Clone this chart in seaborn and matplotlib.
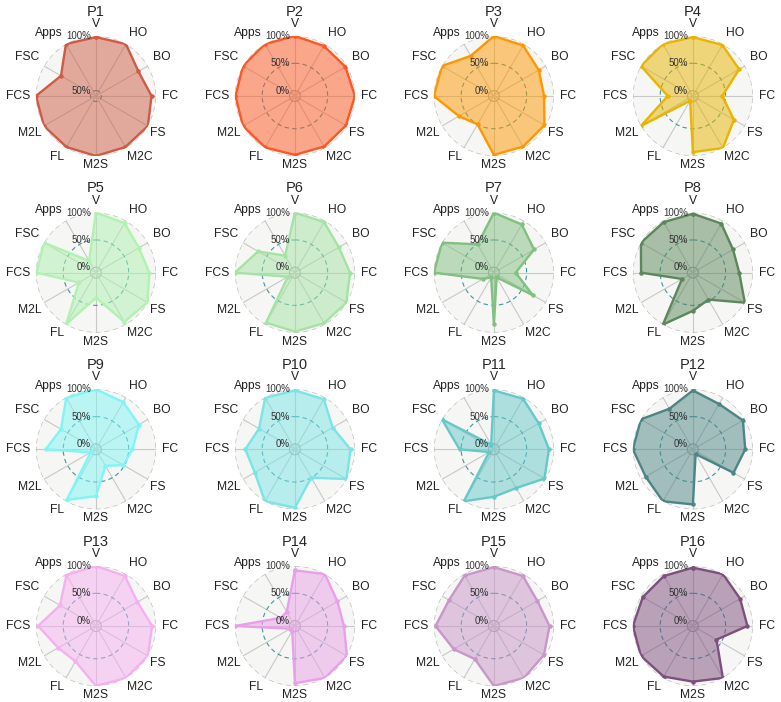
import numpy as np
import matplotlib
matplotlib.use("Agg")
import matplotlib.pyplot as plt
import matplotlib.transforms as mtransforms
import seaborn as sns

# ----------------------- Data (percent per category)
categories = ["V", "HO", "BO", "FC", "FS", "M2C", "M2S", "FL", "M2L", "FCS", "FSC", "Apps"]
panel_names = [f"P{i}" for i in range(1, 17)]

p1 = [99, 100, 90, 96, 100, 99, 100, 99, 100, 100, 82, 100]
p2 = [100, 96, 97, 100, 98, 97, 98, 99, 100, 99, 100, 100]
p3 = [100, 97, 85, 82, 97, 97, 98, 50, 64, 100, 100, 75]
p4 = [98, 98, 88, 44, 77, 100, 93, 0, 100, 36, 100, 100]
p5 = [100, 95, 81, 88, 99, 94, 36, 99, 26, 99, 100, 15]
p6 = [100, 97, 83, 91, 99, 97, 98, 96, 5, 100, 68, 26]
p7 = [100, 92, 75, 30, 72, 0, 85, 0, 13, 100, 100, 50]
p8 = [98, 94, 75, 75, 100, 47, 60, 100, 13, 85, 100, 97]
p9 = [100, 90, 81, 57, 48, 25, 76, 97, 1, 82, 64, 99]
p10 = [98, 96, 70, 92, 99, 50, 97, 100, 75, 81, 66, 99]
p11 = [98, 97, 85, 91, 97, 72, 77, 100, 0, 53, 100, 0]
p12 = [98, 86, 96, 86, 76, 0, 91, 100, 90, 100, 100, 76]
p13 = [100, 96, 78, 93, 100, 100, 100, 65, 70, 96, 66, 98]
p14 = [92, 100, 80, 80, 100, 100, 95, 0, 0, 100, 20, 20]
p15 = [98, 96, 82, 92, 96, 100, 100, 60, 75, 97, 85, 97]
p16 = [97, 100, 90, 90, 40, 100, 92, 97, 100, 100, 96, 96]

series = [p1, p2, p3, p4, p5, p6, p7, p8, p9, p10, p11, p12, p13, p14, p15, p16]

line_colors = ["#cd5c45", "#ff5722", "#ff9800", "#e8b500",
               "#b0f2b0", "#a5e3a5", "#80c080", "#5b875b",
               "#80f5f5", "#7ae5e5", "#66c9c9", "#4d8585",
               "#f5b0f0", "#e8a0e8", "#c896c8", "#7d4f7d"]


# ----------------------- Style
sns.set_theme(style="white")
plt.rcParams["font.family"] = ["Liberation Sans", "DejaVu Sans"]

theta = np.linspace(0, 2 * np.pi, len(categories), endpoint=False)
theta_closed = np.append(theta, theta[0])

fig, axes = plt.subplots(4, 4, figsize=(7.81, 7.02), dpi=100,
                         subplot_kw=dict(polar=True))
plt.subplots_adjust(left=0.046, right=0.964, top=0.9487, bottom=0.0228,
                    wspace=0.658, hspace=0.4725)

# shift for the % labels: a few px left of the top spoke
rlab_shift = mtransforms.ScaledTranslation(-5 / 100, 0, fig.dpi_scale_trans)

for ax, name, vals, col in zip(axes.flat, panel_names, series, line_colors):
    vals_closed = np.append(vals, vals[0])

    ax.set_theta_offset(np.pi / 2)
    ax.set_theta_direction(-1)
    ax.set_facecolor("#f6f6f4")
    ax.set_axisbelow(True)

    ax.fill(theta_closed, vals_closed, color=col, alpha=0.5, lw=0, zorder=2)
    sns.lineplot(x=theta_closed, y=vals_closed, ax=ax, sort=False,
                 estimator=None, color=col, lw=1.7, marker="o",
                 markersize=3.2, markeredgewidth=0, zorder=3)

    # P1 has a tighter radial range than the others
    if name == "P1":
        ax.set_ylim(45, 100)
        rticks = [50, 100]
    else:
        ax.set_ylim(-10, 100)
        rticks = [0, 50, 100]
    ax.set_yticks(rticks)
    ax.set_yticklabels([])
    for t in rticks:
        ax.text(0, t, f"{t}%", ha="right", va="center", fontsize=7,
                color="#333333", transform=ax.transData + rlab_shift,
                zorder=5)

    ax.set_xticks(theta)
    ax.set_xticklabels([])
    ax.tick_params(axis="both", length=0)
    ax.set_xlabel("")
    ax.set_ylabel("")

    # category labels just outside the outer ring
    for th, cat in zip(theta, categories):
        s, c = np.sin(th), np.cos(th)
        ha = "left" if s > 0.3 else ("right" if s < -0.3 else "center")
        va = "bottom" if c > 0.3 else ("top" if c < -0.3 else "center")
        k = 1.05 if va == "top" else 1.1
        ax.text(0.5 + 0.5 * k * s, 0.5 + 0.5 * k * c, cat,
                transform=ax.transAxes, ha=ha, va=va, fontsize=8.7,
                color="#222222")

    ax.xaxis.grid(True, color="#c8c8c8", lw=0.8)
    ax.yaxis.grid(True)
    glines = ax.yaxis.get_gridlines()
    for t, gl in zip(rticks, glines):
        if t == 50:
            gl.set_color("#3d97a3")
            gl.set_linestyle((0, (4, 3)))
            gl.set_linewidth(0.8)
        elif t == 100:
            gl.set_color("#bbbbbb")
            gl.set_linestyle((0, (4, 3)))
            gl.set_linewidth(0.9)
        else:
            gl.set_color("#aaaaaa")
            gl.set_linestyle("-")
            gl.set_linewidth(0.8)
    ax.spines["polar"].set_visible(False)

    ax.set_title(name, fontsize=10.5, y=1.17, pad=0)

plt.savefig("out.png", dpi=100)
